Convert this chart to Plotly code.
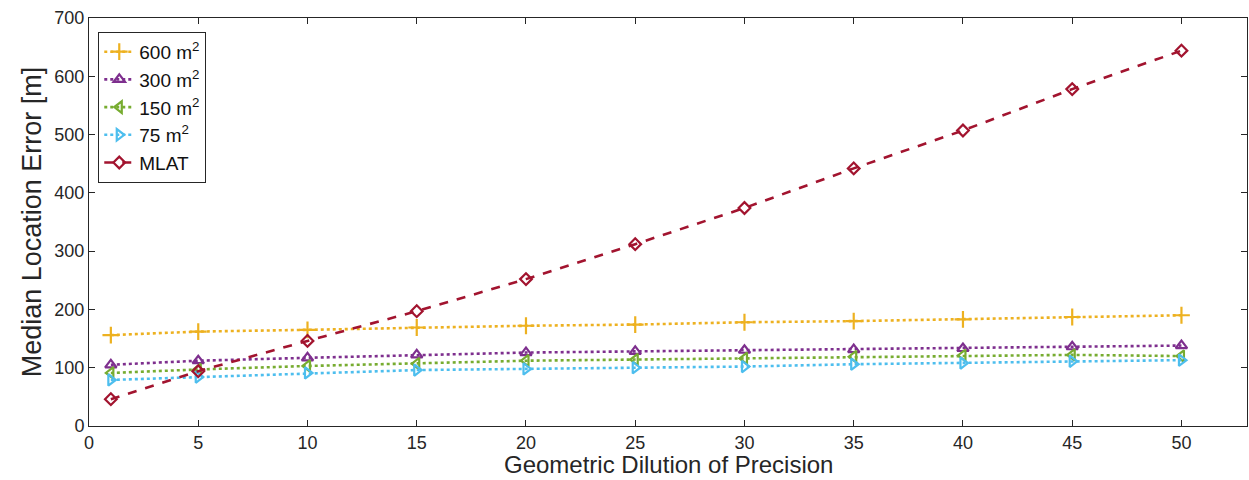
import plotly.graph_objects as go

# Geometric dilution of precision values sampled
gdop = [1, 5, 10, 15, 20, 25, 30, 35, 40, 45, 50]

# Median location error [m] for each grid cell size and for multilateration
err_600 = [156, 162, 165, 169, 172, 174, 178, 180, 183, 187, 190]
err_300 = [105, 112, 117, 122, 126, 128, 130, 131, 133, 136, 138]
err_150 = [91, 97, 103, 107, 112, 114, 116, 119, 121, 122, 120]
err_75 = [79, 84, 91, 96, 98, 100, 102, 106, 108, 111, 113]
err_mlat = [46, 94, 146, 197, 252, 312, 374, 442, 507, 578, 644]

x_ticks = [0, 5, 10, 15, 20, 25, 30, 35, 40, 45, 50]
y_ticks = [0, 100, 200, 300, 400, 500, 600, 700]

series = [
    ("600 m<sup>2</sup>", err_600, "#EDB120", "cross-thin-open", "dot", 12),
    ("300 m<sup>2</sup>", err_300, "#7E2F8E", "triangle-up-open", "dot", 10),
    ("150 m<sup>2</sup>", err_150, "#77AC30", "triangle-left-open", "dot", 10),
    ("75 m<sup>2</sup>", err_75, "#4DBEEE", "triangle-right-open", "dot", 10),
    ("MLAT", err_mlat, "#A2142F", "diamond-open", "dash", 9),
]

fig = go.Figure()
for name, vals, color, symbol, dash, msize in series:
    fig.add_trace(go.Scatter(
        x=gdop, y=vals, name=name, mode="lines+markers",
        line=dict(color=color, width=2.6, dash=dash),
        marker=dict(symbol=symbol, size=msize, color=color,
                    line=dict(color=color, width=2.2)),
    ))

axis_common = dict(
    showline=True, linecolor="#262626", linewidth=1, mirror="ticks",
    ticks="inside", ticklen=6, tickcolor="#262626", tickwidth=1,
    showgrid=False, zeroline=False,
    tickfont=dict(family="Liberation Sans, Arial, sans-serif", size=18, color="#262626"),
)

fig.update_layout(
    width=1249, height=480,
    margin=dict(l=89, r=2, t=18, b=54),
    paper_bgcolor="white", plot_bgcolor="white",
    font=dict(family="Liberation Sans, Arial, sans-serif", color="#262626"),
    xaxis=dict(range=[0, 53], tickvals=x_ticks, **axis_common),
    yaxis=dict(range=[0, 700], tickvals=y_ticks,
               title=dict(text="Median Location Error [m]", font=dict(size=27), standoff=4),
               **axis_common),
    legend=dict(x=0.008, y=0.966, xanchor="left", yanchor="top",
                bgcolor="white", bordercolor="#262626", borderwidth=1,
                font=dict(size=19, color="#111111"), tracegroupgap=0,
                itemwidth=30),
    showlegend=True,
)

# x-axis title placed below the tick labels
fig.add_annotation(
    text="Geometric Dilution of Precision", xref="paper", yref="paper",
    x=0.5, y=-0.095, xanchor="center", yanchor="middle", showarrow=False,
    borderpad=0, font=dict(size=24, color="#262626"),
)

fig.write_html("out.html")
